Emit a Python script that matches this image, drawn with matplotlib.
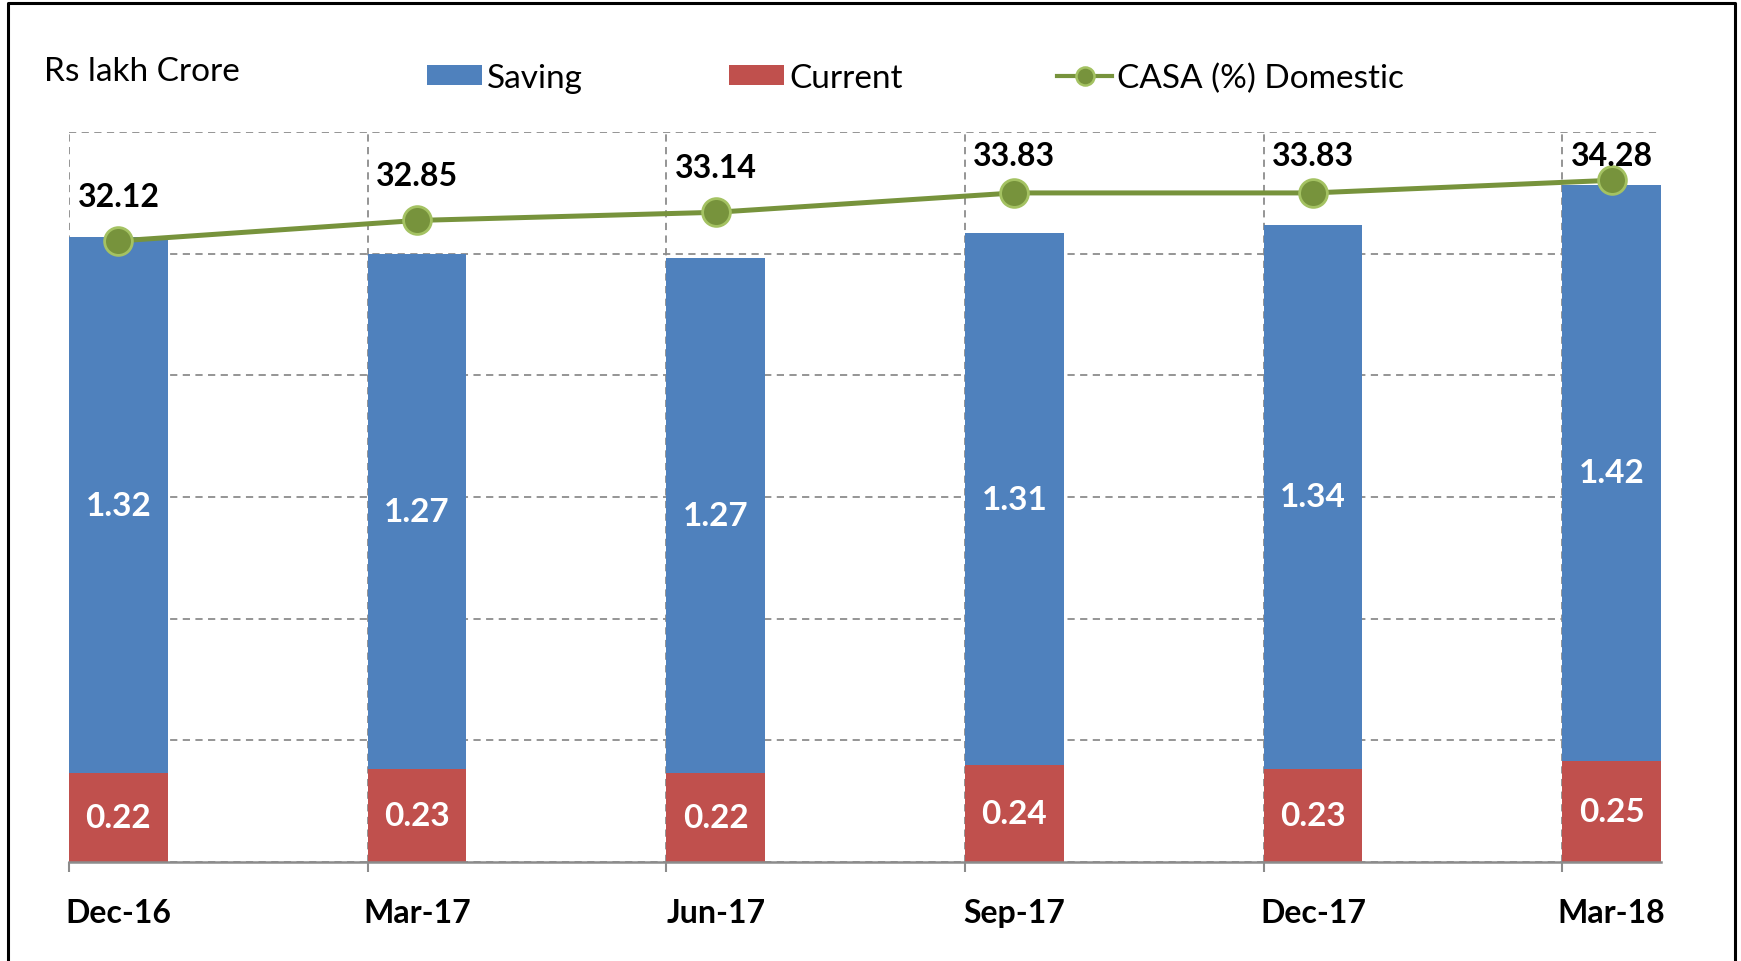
import numpy as np
import matplotlib.pyplot as plt
from matplotlib.lines import Line2D
from matplotlib.patches import Patch

# Données (Rs lakh crore et CASA %)
quarters = ['Dec-16', 'Mar-17', 'Jun-17', 'Sep-17', 'Dec-17', 'Mar-18']
saving = [1.32, 1.27, 1.27, 1.31, 1.34, 1.42]
current = [0.22, 0.23, 0.22, 0.24, 0.23, 0.25]
casa = [32.12, 32.85, 33.14, 33.83, 33.83, 34.28]

plt.rcParams['font.family'] = ['Lato', 'DejaVu Sans']

BLUE = '#4F81BD'
RED = '#C0504D'
GREEN = '#77933C'
LIGHT_GREEN = '#A4C262'
GRID = '#8C8C8C'

W, H = 1741, 962
fig = plt.figure(figsize=(W / 100, H / 100), dpi=100)
ax = fig.add_axes([69 / W, 1 - 863 / H, (1661 - 69) / W, (863 - 133) / H])
ax2 = ax.twinx()

x = np.arange(len(quarters))
width = 0.331
centers = x + width / 2

# barres empilées
b_cur = ax.bar(x, current, width, align='edge', color=RED, zorder=2)
b_sav = ax.bar(x, saving, width, bottom=current, align='edge', color=BLUE, zorder=2)
ax.bar_label(b_cur, labels=[f'{v:.2f}' for v in current], label_type='center',
             color='white', fontsize=24, fontweight='bold')
ax.bar_label(b_sav, labels=[f'{v:.2f}' for v in saving], label_type='center',
             color='white', fontsize=24, fontweight='bold')

ax.set_xlim(0, len(quarters) - 1 + width)
ax.set_ylim(0, 1.8)
ax.set_yticks(np.linspace(0, 1.8, 7))
ax.tick_params(axis='y', left=False, labelleft=False)
ax.set_xticks(centers, quarters)
ax.set_xticks(x, minor=True)
ax.tick_params(axis='x', which='major', length=0, pad=26, labelsize=23)
ax.tick_params(axis='x', which='minor', length=7, width=1.5, color=GRID)
for lbl in ax.get_xticklabels():
    lbl.set_fontweight('bold')

ax.grid(axis='y', which='major', color=GRID, linestyle=(0, (4, 3)), lw=1.3, zorder=0)
ax.grid(axis='x', which='minor', color=GRID, linestyle=(0, (4, 3)), lw=1.3, zorder=0)
ax.set_axisbelow(True)
for s in ['top', 'left', 'right']:
    ax.spines[s].set_visible(False)
ax.spines['bottom'].set_color(GRID)
ax.spines['bottom'].set_linewidth(1.8)

# ligne CASA sur l'axe secondaire
ax2.plot(centers, casa, color=GREEN, lw=3.6, marker='o', markersize=20,
         markerfacecolor=GREEN, markeredgecolor=LIGHT_GREEN, markeredgewidth=2, zorder=3)
ax2.set_ylim(10, 36)
ax2.set_yticks([])
for s in ax2.spines.values():
    s.set_visible(False)
for c, v in zip(centers, casa):
    ax2.text(c, min(v + 1.6, 35.17), f'{v:.2f}', ha='center', va='center',
             fontsize=23, fontweight='bold', color='black')

# légende et titre
fig.text(44 / W, 1 - 72 / H, 'Rs lakh Crore', fontsize=24, va='center', ha='left')
items = [
    (Patch(facecolor=BLUE, label='Saving'), 427),
    (Patch(facecolor=RED, label='Current'), 729),
    (Line2D([], [], color=GREEN, lw=3, marker='o', markersize=13,
            markerfacecolor=GREEN, markeredgecolor=LIGHT_GREEN, markeredgewidth=1.8,
            label='CASA (%) Domestic'), 1057),
]
for h, xpos in items:
    leg = fig.legend(handles=[h], loc='center left', bbox_to_anchor=(xpos / W, 1 - 79 / H),
                     frameon=False, fontsize=24, handlelength=1.65, handleheight=0.55,
                     handletextpad=0.15, borderpad=0, borderaxespad=0)

# cadre
fig.add_artist(Line2D([8 / W, 8 / W, 1735 / W, 1735 / W], [0, 1 - 4 / H, 1 - 4 / H, 0],
                      transform=fig.transFigure, color='black', lw=2.2))

fig.savefig('out.png', dpi=100)
